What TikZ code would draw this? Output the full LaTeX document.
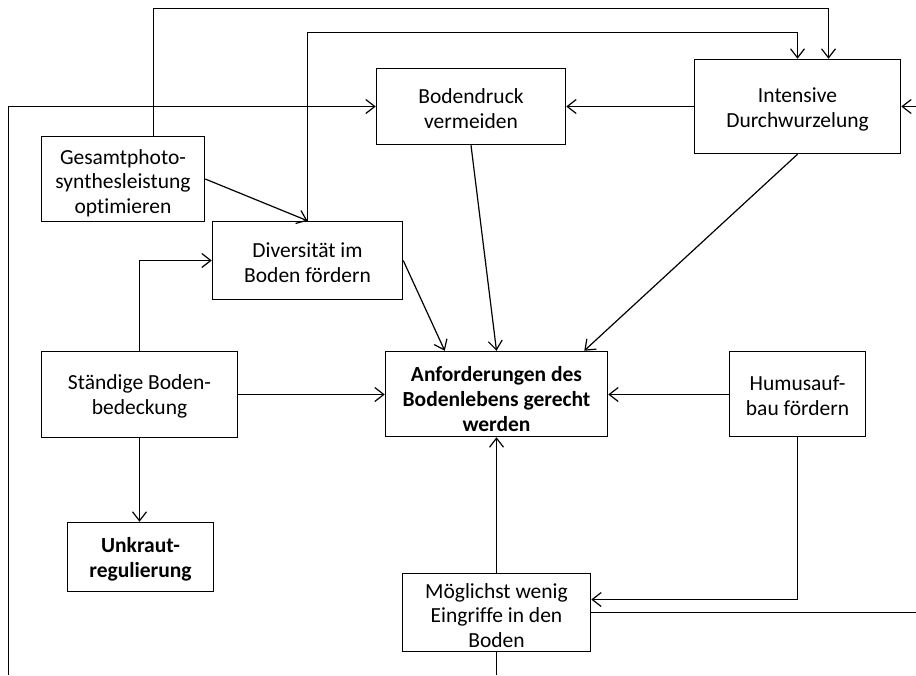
\documentclass[tikz,border=0pt]{standalone}
\usepackage{fontspec}
\setmainfont{Carlito}[Ligatures={NoCommon}]
\usetikzlibrary{arrows.meta,calc}
\begin{document}
\begin{tikzpicture}[x=1pt,y={(0pt,-1pt)},
  box/.style={draw,line width=1.5pt,inner sep=0pt},
  txt/.style={align=center,inner sep=0pt,font=\fontsize{21.5}{24.6}\selectfont},
  arr/.style={line width=1.2pt,-{Straight Barb[length=9pt,width=14pt,line width=1.2pt]}},
  ln/.style={line width=1.2pt}]
\useasboundingbox (0,0) rectangle (916,675);
\node[box,minimum width=163pt,minimum height=85pt] (gesamt) at (123,179) {};
\node[box,minimum width=189pt,minimum height=76pt] (boden) at (471,106.5) {};
\node[box,minimum width=206pt,minimum height=94pt] (intens) at (797.5,106.5) {};
\node[box,minimum width=190pt,minimum height=78pt] (divers) at (307.5,260.5) {};
\node[box,minimum width=196pt,minimum height=86pt] (staend) at (139.5,394.5) {};
\node[box,minimum width=222pt,minimum height=85pt] (anf) at (496.5,394) {};
\node[box,minimum width=136pt,minimum height=85pt] (humus) at (797.5,394) {};
\node[box,minimum width=146pt,minimum height=69pt] (unkraut) at (140.5,557) {};
\node[box,minimum width=188pt,minimum height=78pt] (moeg) at (496.5,612.5) {};
\node[txt] (gesamtT) at ([yshift=-4pt]gesamt.center) {Gesamtphoto-\\synthesleistung\\optimieren};
\node[txt] (bodenT) at ([yshift=-2pt]boden.center) {Bodendruck\\vermeiden};
\node[txt] (intensT) at ([yshift=-3pt]intens.center) {Intensive\\Durchwurzelung};
\node[txt] (diversT) at ([yshift=-2pt]divers.center) {Diversität im\\Boden fördern};
\node[txt] (staendT) at ([yshift=-2pt]staend.center) {Ständige Boden-\\bedeckung};
\node[txt,font=\fontsize{21.5}{24.6}\selectfont\bfseries] (anfT) at ([yshift=-5pt]anf.center) {Anforderungen des\\Bodenlebens gerecht\\werden};
\node[txt] (humusT) at ([yshift=-2pt]humus.center) {Humusauf-\\bau fördern};
\node[txt,font=\fontsize{21.5}{24.6}\selectfont\bfseries] (unkrautT) at ([yshift=-2pt]unkraut.center) {Unkraut-\\regulierung};
\node[txt] (moegT) at ([yshift=-3pt]moeg.center) {Möglichst wenig\\Eingriffe in den\\Boden};
\coordinate (t1) at (153.5,8.5);
\coordinate (t1r) at (828.5,8.5);
\coordinate (t2) at (307.5,32.5);
\coordinate (t2r) at (797.5,32.5);
\coordinate (lb) at (8.5,675);
\coordinate (re) at (916,106.5);
\coordinate (mr) at (916,612.5);
\coordinate (mb) at (496.5,675);
\draw[arr] (gesamt.north -| t1) -- (t1) -- (t1r) -- (intens.north -| t1r);
\draw[arr] (divers.north) -- (t2) -- (t2r) -- (intens.north);
\draw[arr] (gesamt.east) -- (divers.north);
\draw[arr] (lb) |- (boden.west);
\draw[arr] (intens.west) -- (boden.east);
\draw[arr] (re) -- (intens.east);
\draw[arr] (divers.east) -- ($(anf.north west)+(60,0)$);
\draw[arr] (boden.south) -- (anf.north);
\draw[arr] (intens.south) -- ($(anf.north east)+(-24,0)$);
\draw[arr] (staend.north) |- (divers.west);
\draw[arr] (staend.east) -- (staend.east -| anf.west);
\draw[arr] ($(humus.west)+(0,0.5)$) -- ($(anf.east)+(0,0.5)$);
\draw[arr] (staend.south) -- (staend.south |- unkraut.north);
\draw[arr] (humus.south) |- ($(moeg.east)+(0,-13)$);
\draw[arr] (moeg.north) -- (anf.south);
\draw[ln] (moeg.east) -- (mr);
\draw[ln] (moeg.south) -- (mb);
\end{tikzpicture}
\end{document}
